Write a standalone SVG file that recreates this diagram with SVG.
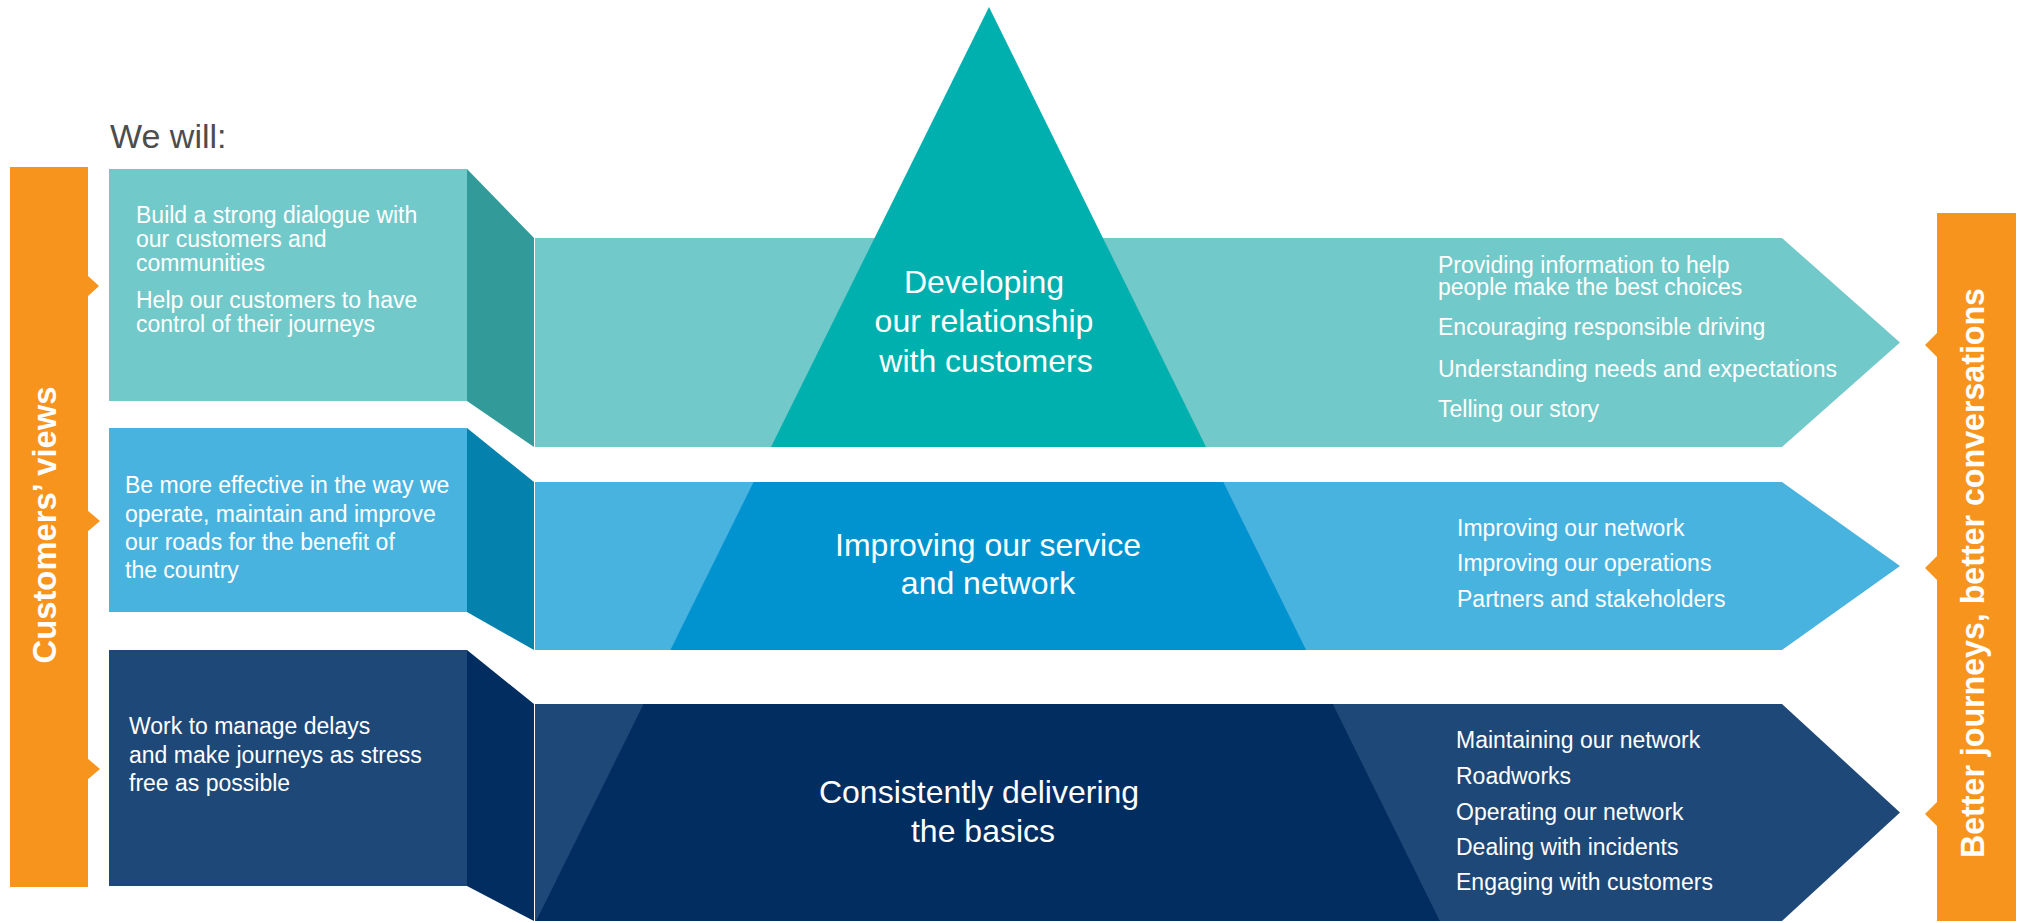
<svg xmlns="http://www.w3.org/2000/svg" width="2022" height="923" viewBox="0 0 2022 923">
<style>
.t{font-family:"Liberation Sans",Arial,sans-serif;font-size:23px;fill:#ffffff}
.c{font-family:"Liberation Sans",Arial,sans-serif;font-size:32px;fill:#ffffff;text-anchor:middle}
.v{font-family:"Liberation Sans",Arial,sans-serif;font-size:33px;font-weight:bold;fill:#ffffff;text-anchor:middle}
.or{fill:#F7941E}
</style>
<rect width="2022" height="923" fill="#ffffff"/>
<text x="110" y="148" style="font-family:'Liberation Sans',Arial,sans-serif;font-size:34px;fill:#4D4D4D">We will:</text>

<g id="customers-views">
<rect class="or" x="10" y="167" width="78" height="720"/>
<polygon class="or" points="87,275 99,286 87,297"/>
<polygon class="or" points="87,510 100,521 87,532"/>
<polygon class="or" points="87,758 100,769 87,780"/>
<text class="v" transform="translate(56,525) rotate(-90)" textLength="277" lengthAdjust="spacingAndGlyphs">Customers’ views</text>
</g>

<g id="better-journeys">
<rect class="or" x="1937" y="213" width="79" height="708"/>
<polygon class="or" points="1938,332 1925,345 1938,358"/>
<polygon class="or" points="1938,555 1925,568 1938,581"/>
<polygon class="or" points="1938,801 1925,814 1938,827"/>
<text class="v" transform="translate(1984,573) rotate(-90)" textLength="570" lengthAdjust="spacingAndGlyphs">Better journeys, better conversations</text>
</g>

<g id="box1">
<rect x="109" y="169" width="358" height="232" fill="#72C9C9"/>
<text class="t" x="136" y="223">Build a strong dialogue with</text>
<text class="t" x="136" y="247">our customers and</text>
<text class="t" x="136" y="271">communities</text>
<text class="t" x="136" y="308">Help our customers to have</text>
<text class="t" x="136" y="332">control of their journeys</text>
</g>
<g id="box2">
<rect x="109" y="428" width="358" height="184" fill="#49B3E0"/>
<text class="t" x="125" y="493">Be more effective in the way we</text>
<text class="t" x="125" y="522">operate, maintain and improve</text>
<text class="t" x="125" y="550">our roads for the benefit of</text>
<text class="t" x="125" y="578">the country</text>
</g>
<g id="box3">
<rect x="109" y="650" width="358" height="236" fill="#1E4877"/>
<text class="t" x="129" y="734">Work to manage delays</text>
<text class="t" x="129" y="763">and make journeys as stress</text>
<text class="t" x="129" y="791">free as possible</text>
</g>

<g id="connectors">
<polygon points="467,169 534,238 534,447 467,401" fill="#329B9A"/>
<polygon points="467,428 534,482 534,650 467,612" fill="#0581AD"/>
<polygon points="467,650 534,704 534,921 467,886" fill="#022D60"/>
</g>

<g id="band1">
<polygon points="535,238 1782,238 1900,342.5 1782,447 535,447" fill="#72C9C9"/>
<polygon points="989,7 771,447 1206,447" fill="#00B0AF"/>
<text class="c" x="984" y="293">Developing</text>
<text class="c" x="984" y="332">our relationship</text>
<text class="c" x="986" y="372">with customers</text>
<text class="t" x="1438" y="273">Providing information to help</text>
<text class="t" x="1438" y="295">people make the best choices</text>
<text class="t" x="1438" y="335">Encouraging responsible driving</text>
<text class="t" x="1438" y="377">Understanding needs and expectations</text>
<text class="t" x="1438" y="417">Telling our story</text>
</g>

<g id="band2">
<polygon points="535,482 1782,482 1900,566 1782,650 535,650" fill="#49B3E0"/>
<polygon points="753.6,482 1223.3,482 1306.1,650 670.4,650" fill="#0093D0"/>
<text class="c" x="988" y="556">Improving our service</text>
<text class="c" x="988" y="594">and network</text>
<text class="t" x="1457" y="536">Improving our network</text>
<text class="t" x="1457" y="571">Improving our operations</text>
<text class="t" x="1457" y="607">Partners and stakeholders</text>
</g>

<g id="band3">
<polygon points="535,704 1782,704 1900,812.5 1782,921 535,921" fill="#1E4877"/>
<polygon points="643.6,704 1332.8,704 1439.8,921 536.1,921" fill="#022D60"/>
<text class="c" x="979" y="803">Consistently delivering</text>
<text class="c" x="983" y="842">the basics</text>
<text class="t" x="1456" y="748">Maintaining our network</text>
<text class="t" x="1456" y="784">Roadworks</text>
<text class="t" x="1456" y="820">Operating our network</text>
<text class="t" x="1456" y="855">Dealing with incidents</text>
<text class="t" x="1456" y="890">Engaging with customers</text>
</g>
</svg>
